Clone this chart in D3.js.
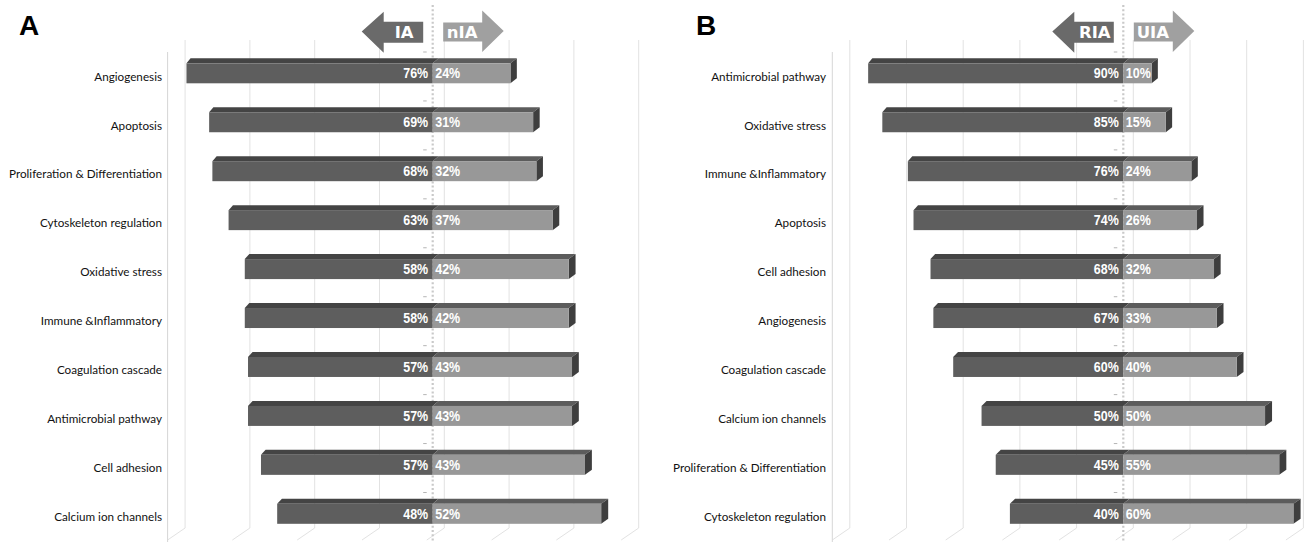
<!DOCTYPE html>
<html><head><meta charset="utf-8">
<script src="https://cdn.jsdelivr.net/npm/d3@7"></script>
<style>
html,body{margin:0;padding:0;background:#fff;}
svg{display:block;}
.cat{font-family:Lato,"Open Sans",sans-serif;font-size:11.7px;fill:#111;}
.pct{font-family:"Liberation Sans",Arial,sans-serif;font-weight:bold;font-size:14.5px;fill:#fff;}
.arrowtxt{font-family:"DejaVu Sans",sans-serif;font-weight:bold;font-size:16.5px;fill:#fff;}
.panel{font-family:"Liberation Sans",Arial,sans-serif;font-weight:bold;font-size:28px;fill:#000;}
</style>
</head><body>
<svg id="c" width="1304" height="542"></svg>
<script>
// ---------- data ----------
const catsA = ["Angiogenesis","Apoptosis","Proliferation & Differentiation","Cytoskeleton regulation","Oxidative stress","Immune &Inflammatory","Coagulation cascade","Antimicrobial pathway","Cell adhesion","Calcium ion channels"];
const iaVals  = [76,69,68,63,58,58,57,57,53,48];   // bar lengths as drawn
const niaVals = [24,31,32,37,42,42,43,43,47,52];
const iaLabels  = ["76%","69%","68%","63%","58%","58%","57%","57%","57%","48%"];
const niaLabels = ["24%","31%","32%","37%","42%","42%","43%","43%","43%","52%"];

const catsB = ["Antimicrobial pathway","Oxidative stress","Immune &Inflammatory","Apoptosis","Cell adhesion","Angiogenesis","Coagulation cascade","Calcium ion channels","Proliferation & Differentiation","Cytoskeleton regulation"];
const riaVals = [90,85,76,74,68,67,60,50,45,40];
const uiaVals = [10,15,24,26,32,33,40,50,55,60];
const riaLabels = ["90%","85%","76%","74%","68%","67%","60%","50%","45%","40%"];
const uiaLabels = ["10%","15%","24%","26%","32%","33%","40%","50%","55%","60%"];

const gridTicksA = [-80,-60,-40,-20,0,20,40,60];
const gridTicksB = [-100,-80,-60,-40,-20,0,20,40,60];

const svg = d3.select("#c");

function panel(cfg){
  const g = svg.append("g");
  const x = d3.scaleLinear().domain(cfg.domain).range(cfg.range);
  const y = d3.scalePoint().domain(cfg.cats).range([73.3, 513.8]);
  const back = v => x(v) + cfg.backOff;
  const wallDx = -17.5, wallDy = 12, wallTop = 40, floorY = 528;
  const c0 = x(0);

  const gl = g.append("g").attr("stroke","#e2e2e2").attr("stroke-width",1).attr("fill","none");
  cfg.grid.forEach(v=>{
    const xb = back(v);
    gl.append("path").attr("d",`M${xb},${wallTop}V${floorY}L${xb+wallDx},${floorY+wallDy}`);
  });
  const xl = back(cfg.domain[0]) + wallDx;
  gl.append("line").attr("x1",xl).attr("x2",xl).attr("y1",wallTop+wallDy).attr("y2",542).attr("stroke","#d6d6d6");

  g.append("line").attr("x1",c0).attr("x2",c0).attr("y1",5).attr("y2",542)
    .attr("stroke","#c9c9c9").attr("stroke-width",2.2).attr("stroke-dasharray","2,2.2");

  cfg.cats.forEach(cn=>{
    const yy = y(cn) - 21.3;
    g.append("line").attr("x1",c0-9.5).attr("x2",c0-6).attr("y1",yy).attr("y2",yy)
      .attr("stroke","#b5b5b5").attr("stroke-width",1);
  });

  const r0 = cfg.range[0], r1 = cfg.range[1];
  const ddx = xx => 4 + 3.2*(xx - r0)/(r1 - r0);
  const dz = 5, h = 10;

  cfg.cats.forEach((cn,i)=>{
    const cy = y(cn);
    const xL = x(-cfg.left[i]), xR = x(cfg.right[i]);
    const yT = cy - h, yB = cy + h;
    g.append("polygon").attr("points",[[xL,yT],[xL+ddx(xL),yT-dz],[c0+ddx(c0),yT-dz],[c0,yT]].join(" ")).attr("fill","#444444");
    g.append("polygon").attr("points",[[c0,yT],[c0+ddx(c0),yT-dz],[xR+ddx(xR),yT-dz],[xR,yT]].join(" ")).attr("fill","#5c5c5c");
    g.append("polygon").attr("points",[[xR,yT],[xR+ddx(xR),yT-dz],[xR+ddx(xR),yB-dz],[xR,yB]].join(" ")).attr("fill","#3e3e3e");
    g.append("rect").attr("x",xL).attr("y",yT).attr("width",c0-xL).attr("height",yB-yT).attr("fill","#5e5e5e");
    g.append("rect").attr("x",c0).attr("y",yT).attr("width",xR-c0).attr("height",yB-yT).attr("fill","#989898");
    g.append("text").attr("class","pct").attr("transform",`translate(${c0-4.5},${cy+5}) scale(0.86,1)`).attr("text-anchor","end").text(cfg.leftLab[i]);
    g.append("text").attr("class","pct").attr("transform",`translate(${c0+2.5},${cy+5}) scale(0.86,1)`).attr("text-anchor","start").text(cfg.rightLab[i]);
    g.append("text").attr("class","cat").attr("x",cfg.labelX).attr("y",cy+7.3).attr("text-anchor","end").text(cn);
  });

  const la = [[c0-71,31.5],[c0-49,11.7],[c0-49,21.7],[c0-9.5,21.7],[c0-9.5,42.7],[c0-49,42.7],[c0-49,52.7]];
  g.append("polygon").attr("points",la.join(" ")).attr("fill","#6a6a6a");
  const ra = [[c0+71,31],[c0+49.5,10.5],[c0+49.5,22.5],[c0+10.5,22.5],[c0+10.5,41.5],[c0+49.5,41.5],[c0+49.5,52]];
  g.append("polygon").attr("points",ra.join(" ")).attr("fill","#a0a0a0");
  g.append("text").attr("class","arrowtxt").attr("x",c0-28.5).attr("y",38).attr("text-anchor","middle").text(cfg.leftName);
  g.append("text").attr("class","arrowtxt").attr("x",c0+29.5).attr("y",38).attr("text-anchor","middle").text(cfg.rightName);

  g.append("text").attr("class","panel").attr("x",cfg.letterX).attr("y",35).text(cfg.letter);
}

panel({cats:catsA,left:iaVals,right:niaVals,leftLab:iaLabels,rightLab:niaLabels,
  domain:[-80,60],range:[173.5,627.1],backOff:11.6,grid:gridTicksA,labelX:162,
  leftName:"IA",rightName:"nIA",letter:"A",letterX:19});
panel({cats:catsB,left:riaVals,right:uiaVals,leftLab:riaLabels,rightLab:uiaLabels,
  domain:[-100,60],range:[839.8,1293.4],backOff:10,grid:gridTicksB,labelX:826,
  leftName:"RIA",rightName:"UIA",letter:"B",letterX:696});
</script>
</body></html>
